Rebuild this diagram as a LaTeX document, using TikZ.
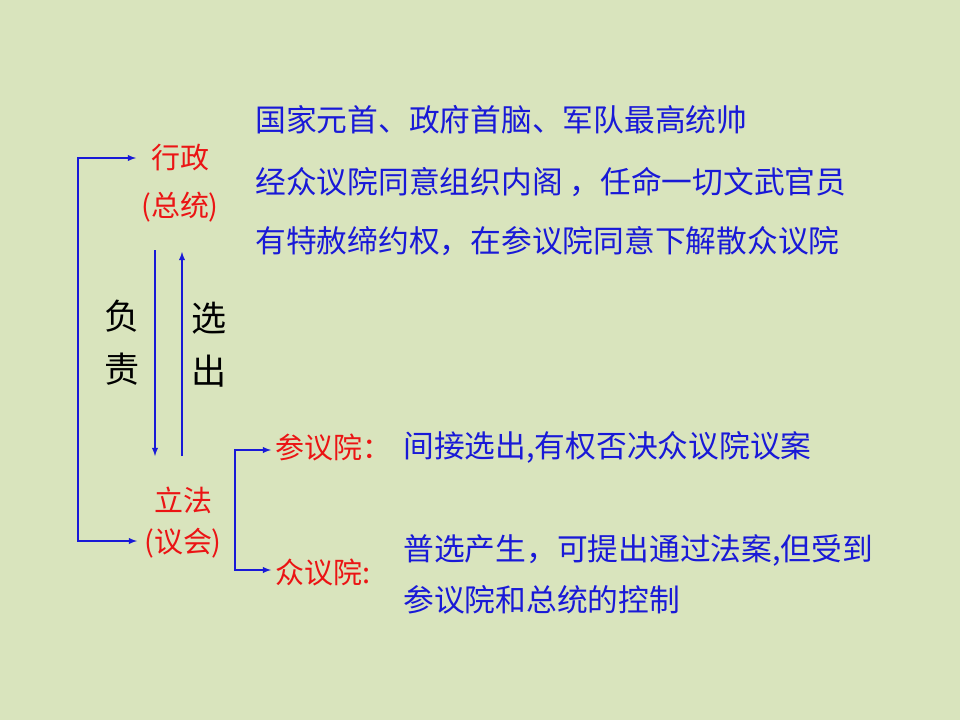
\documentclass[tikz,border=0pt]{standalone}
\usepackage{fontspec}
\setmainfont{Noto Sans CJK SC}
\usetikzlibrary{positioning,arrows}
\definecolor{bg}{RGB}{217,228,189}
\definecolor{txtblue}{RGB}{25,25,215}
\definecolor{txtred}{RGB}{235,20,20}
\begin{document}
\begin{tikzpicture}[x=0.02cm,y=-0.02cm]
      \tikzstyle{point} = [coordinate]
      \tikzstyle{red} = [text=txtred, font=\fontsize{16.5}{18}\selectfont, inner sep=0pt]
      \tikzstyle{desc} = [text=txtblue, font=\fontsize{17.5}{20}\selectfont, inner sep=0pt, anchor=west]
      \tikzstyle{big} = [font=\fontsize{20}{30}\selectfont, align=center, inner sep=0pt]
      \tikzstyle{link} = [draw=txtblue, semithick, -latex]
      \fill[bg] (0,0) rectangle (960,720);
      % executive
      \node (exec) [red] at (180,158) {行政};
      \node (pres) [red] at (180,207) {(总统)};
      \node (d1) [desc] at (255,120) {国家元首、政府首脑、军队最高统帅};
      \node (d2) [desc] at (255,182) {经众议院同意组织内阁 ，任命一切文武官员};
      \node (d3) [desc] at (255,241) {有特赦缔约权，在参议院同意下解散众议院};
      % legislature
      \node (leg) [red] at (183,500) {立法};
      \node (cong) [red] at (183,543) {(议会)};
      \node (sen) [red, anchor=west] at (275,447) {参议院：};
      \node (sd) [desc] at (403,447) {间接选出,有权否决众议院议案};
      \node (house) [red, anchor=west] at (275,572) {众议院:};
      \node (hd1) [desc] at (403,550) {普选产生，可提出通过法案,但受到};
      \node (hd2) [desc] at (403,600) {参议院和总统的控制};
      % middle
      \node (resp) [big] at (122,343) {负\\责};
      \node (elect) [big] at (209,345) {选\\出};
      \node (t1) [point] at (155,250) {};
      \node (b1) [point] at (155,456) {};
      \node (t2) [point] at (182,252) {};
      \node (b2) [point] at (182,456) {};
      \node (l1) [point] at (78,158) {};
      \node (l2) [point] at (78,541) {};
      \node (e1) [point] at (136,158) {};
      \node (e2) [point] at (137,541) {};
      \node (r1) [point] at (235,450) {};
      \node (r2) [point] at (235,570) {};
      \node (s1) [point] at (271,450) {};
      \node (s2) [point] at (271,570) {};
      \draw [link] (t1)--(b1);
      \draw [link] (b2)--(t2);
      \draw [link] (l2)--(l1)--(e1);
      \draw [link] (l1)--(l2)--(e2);
      \draw [link] (r2)--(r1)--(s1);
      \draw [link] (r1)--(r2)--(s2);
\end{tikzpicture}
\end{document}
